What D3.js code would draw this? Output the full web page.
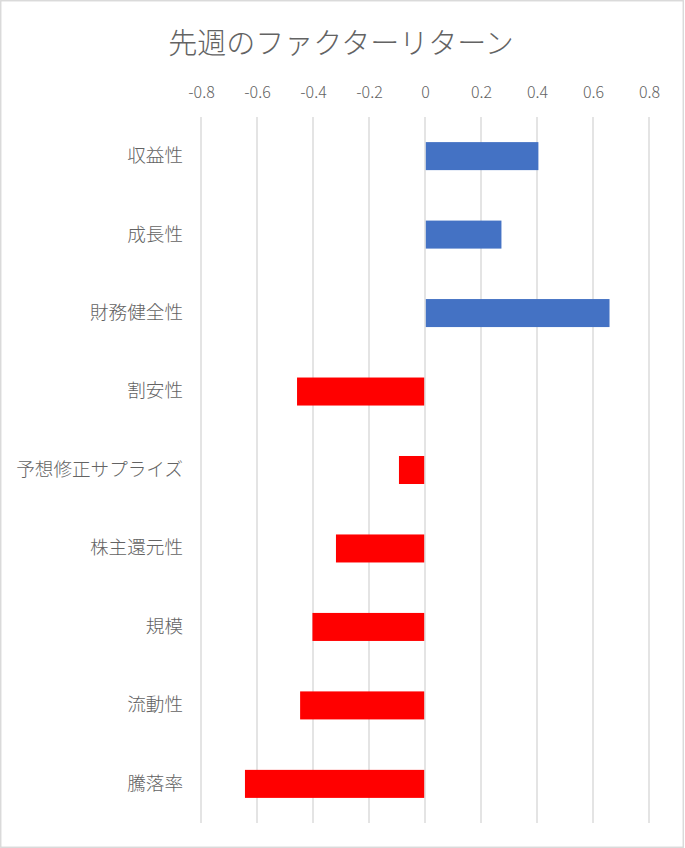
<!DOCTYPE html>
<html><head><meta charset="utf-8">
<script src="https://cdn.jsdelivr.net/npm/d3@7"></script>
<style>html,body{margin:0;padding:0;background:#fff;}svg{display:block;}</style>
</head><body>
<script>
const title = "先週のファクターリターン";
const categories = ["収益性","成長性","財務健全性","割安性","予想修正サプライズ","株主還元性","規模","流動性","騰落率"];
const values = [0.405, 0.273, 0.659, -0.457, -0.093, -0.318, -0.402, -0.446, -0.643];
const tickValues = [-0.8,-0.6,-0.4,-0.2,0,0.2,0.4,0.6,0.8];

(function(){
const W = 685, H = 848;
const font = "'Noto Sans CJK JP','Noto Sans',sans-serif";
const textColor = "#636363";
const svg = d3.select("body").append("svg").attr("width", W).attr("height", H);
svg.append("rect").attr("x",0.75).attr("y",0.75).attr("width",W-2.5).attr("height",H-1.5)
  .attr("fill","#fff").attr("stroke","#d9d9d9").attr("stroke-width",1.4);

const pL = 201, pR = 649, pT = 117, pB = 823;
const x = d3.scaleLinear().domain([-0.8,0.8]).range([pL,pR]);
const y = d3.scaleBand().domain(categories).range([pT,pB]).paddingInner(0.643).paddingOuter(0.32);

svg.append("text").attr("x",341).attr("y",41).attr("text-anchor","middle").attr("dominant-baseline","central")
  .attr("font-family",font).attr("font-size",29).attr("font-weight",300).attr("fill",textColor).text(title);

// grid
svg.append("g").selectAll("line").data(tickValues).join("line")
  .attr("x1",d=>x(d)).attr("x2",d=>x(d)).attr("y1",pT).attr("y2",pB)
  .attr("stroke","#d9d9d9").attr("stroke-width",1.4);

// top axis labels
const ax = svg.append("g").attr("transform",`translate(0,${pT})`)
  .call(d3.axisTop(x).tickValues(tickValues).tickSize(0).tickFormat(d=>String(+d.toFixed(1))));
ax.select(".domain").remove();
ax.selectAll("text").attr("font-family",font).attr("font-size",16).attr("font-weight",300).attr("fill",textColor)
  .attr("y",-24).attr("dy","0.32em");

// bars
const x0 = x(0);
svg.append("g").selectAll("rect").data(categories).join("rect")
  .attr("x",(d,i)=> values[i]>=0 ? x0+0.8 : x(values[i]))
  .attr("width",(d,i)=> values[i]>=0 ? x(values[i])-x0-0.8 : x0-0.8-x(values[i]))
  .attr("y",d=>y(d)).attr("height",y.bandwidth())
  .attr("fill",(d,i)=> values[i]>=0 ? "#4472C4" : "#FF0000");

// category labels
const ay = svg.append("g").attr("transform",`translate(${pL},0)`)
  .call(d3.axisLeft(y).tickSize(0).tickPadding(18));
ay.select(".domain").remove();
ay.selectAll("text").attr("font-family",font).attr("font-size",18.6).attr("font-weight",300).attr("fill",textColor);
})();
</script>
</body></html>
